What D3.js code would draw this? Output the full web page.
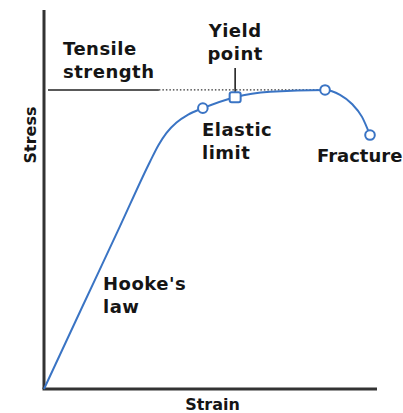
<!DOCTYPE html>
<html lang="en">
  <head>
    <meta charset="UTF-8" />
    <title>stress-strain</title>
    <style>
      body { margin: 0; background: #fff; }
      text { font-family: "DejaVu Sans", sans-serif; font-weight: bold; fill: #151515; }
    </style>
  </head>
  <body>
    <svg width="403" height="413" id="svg"></svg>
    <script src="https://cdn.jsdelivr.net/npm/d3@7"></script>
    <script>
      // strain / stress in arbitrary units (0..100)
      const strain = [0, 11.4, 22.8, 31.9, 34.4, 36.8, 39.8, 43.3, 47.7, 57.4, 67.9, 84.4, 88.9, 92.5, 95.5, 97.9];
      const stress = [0, 21.5, 42.9, 60.1, 64.4, 67.6, 70.3, 72.4, 74.1, 77.0, 78.4, 78.9, 77.6, 75.2, 71.8, 67.0];

      // labelled points on the curve
      const markNames = ["Elastic limit", "Yield point", "Tensile strength", "Fracture"];
      const markStrain = [47.7, 57.4, 84.4, 97.9];
      const markStress = [74.1, 77.0, 78.9, 67.0];
      const tensileStrength = 78.9;

      const svg = d3.select("#svg");
      const x = d3.scaleLinear().domain([0, 100]).range([44, 377]);
      const y = d3.scaleLinear().domain([0, 100]).range([389, 10]);
      const blue = "#3a74c4";

      // tensile strength guide: solid under the label, dotted to the peak
      svg.append("line")
        .attr("x1", x(1.2)).attr("x2", x(34.5))
        .attr("y1", y(tensileStrength)).attr("y2", y(tensileStrength))
        .attr("stroke", "#222").attr("stroke-width", 1.6);
      svg.append("line")
        .attr("x1", x(34.5)).attr("x2", x(markStrain[2]))
        .attr("y1", y(tensileStrength)).attr("y2", y(tensileStrength))
        .attr("stroke", "#333").attr("stroke-width", 1.2)
        .attr("stroke-dasharray", "1.5,2");

      // yield point pointer
      svg.append("line")
        .attr("x1", x(markStrain[1])).attr("x2", x(markStrain[1]))
        .attr("y1", 68).attr("y2", y(markStress[1]))
        .attr("stroke", "#222").attr("stroke-width", 1.6);

      // axes (bare lines, no ticks)
      svg.append("line")
        .attr("x1", x(0)).attr("x2", x(0)).attr("y1", y(100)).attr("y2", y(0))
        .attr("stroke", "#333").attr("stroke-width", 3);
      svg.append("line")
        .attr("x1", x(0) - 1.5).attr("x2", x(100)).attr("y1", y(0)).attr("y2", y(0))
        .attr("stroke", "#333").attr("stroke-width", 3);

      const pts = strain.map((s, i) => [s, stress[i]]);
      const line = d3.line()
        .x((d) => x(d[0]))
        .y((d) => y(d[1]))
        .curve(d3.curveMonotoneX);
      svg.append("path")
        .attr("d", line(pts))
        .attr("fill", "none")
        .attr("stroke", blue)
        .attr("stroke-width", 2);

      // markers
      [0, 2, 3].forEach((i) => {
        svg.append("circle")
          .attr("cx", x(markStrain[i])).attr("cy", y(markStress[i]))
          .attr("r", 4.8)
          .attr("fill", "#fff").attr("stroke", blue).attr("stroke-width", 2);
      });
      svg.append("rect")
        .attr("x", x(markStrain[1]) - 5.5).attr("y", y(markStress[1]) - 5)
        .attr("width", 11).attr("height", 10).attr("rx", 2)
        .attr("fill", "#fff").attr("stroke", blue).attr("stroke-width", 2);

      // annotations
      function label(lines, px, py, anchor, spacing) {
        const t = svg.append("text")
          .attr("x", px).attr("y", py)
          .attr("font-size", 18)
          .attr("letter-spacing", spacing == null ? 0.5 : spacing)
          .attr("text-anchor", anchor || "start");
        lines.forEach((l, i) => {
          t.append("tspan").attr("x", px).attr("dy", i ? 23 : 0).text(l);
        });
      }
      label(["Tensile", "strength"], 63, 55);
      label(["Yield", "point"], x(markStrain[1]), 37, "middle");
      label(["Elastic", "limit"], 202, 136);
      label(["Fracture"], 317, 162, "start", 0);
      label(["Hooke's", "law"], 103, 290);

      svg.append("text")
        .attr("x", (x(0) + x(100)) / 2 + 2).attr("y", 410)
        .attr("font-size", 16)
        .attr("text-anchor", "middle")
        .text("Strain");
      svg.append("text")
        .attr("transform", `translate(36, ${135}) rotate(-90)`)
        .attr("font-size", 16)
        .attr("text-anchor", "middle")
        .text("Stress");
    </script>
  </body>
</html>
